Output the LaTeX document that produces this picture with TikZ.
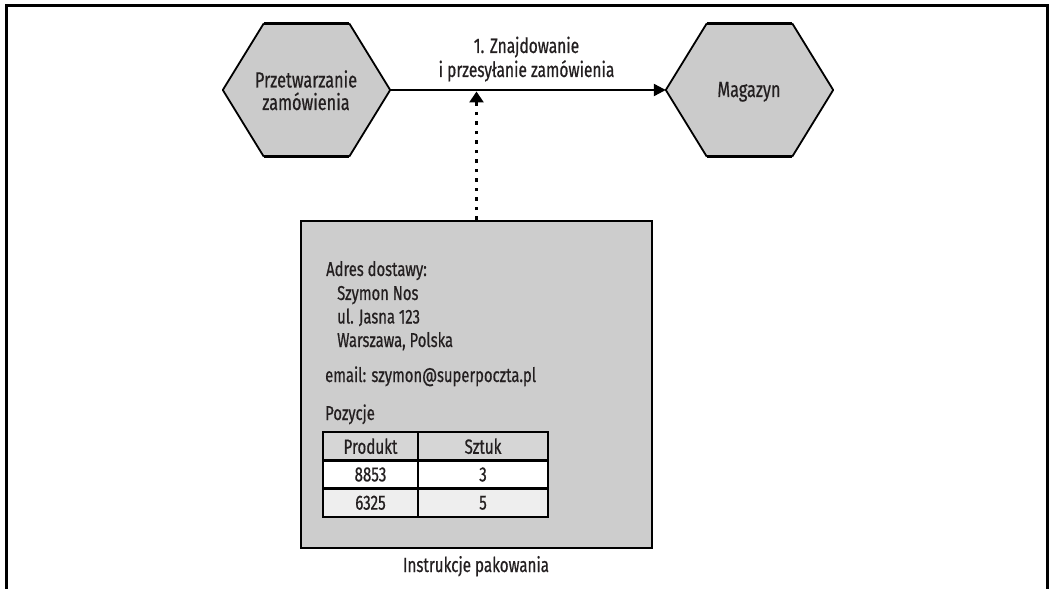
\documentclass[tikz,border=0pt]{standalone}
\usepackage{fontspec}
\setmainfont{Fira Sans}[FakeStretch=0.74, FakeBold=0.6]
\usetikzlibrary{arrows.meta,calc}
\definecolor{hexgray}{HTML}{CBCBCB}
\definecolor{boxgray}{HTML}{CDCDCD}
\definecolor{hdrgray}{HTML}{D6D6D6}
\definecolor{rowgray}{HTML}{EEEEEE}
\definecolor{ink}{HTML}{231F20}
\tikzset{
  hexshape/.style={rectangle, draw=none, inner sep=0pt, minimum width=167bp, minimum height=133bp},
  txt/.style={font=\fontsize{20bp}{24bp}\selectfont, text=ink, inner sep=0pt},
  labtxt/.style={font=\fontsize{21bp}{24bp}\selectfont, text=ink, inner sep=0pt, align=center},
  hextxt/.style={font=\fontsize{22bp}{22.5bp}\selectfont, text=ink, inner sep=0pt, align=center},
  conn/.style={draw=black, line width=2.2bp, -{Triangle[length=12bp,width=12bp]}},
  dotconn/.style={draw=black, line width=3bp, dash pattern=on 3.5bp off 6bp, -{Triangle[length=11bp,width=14bp]}},
  packbox/.style={rectangle, draw=black, line width=2.5bp, fill=boxgray, inner sep=0pt, minimum width=351bp, minimum height=327bp},
  cell/.style={rectangle, draw=black, line width=2.5bp, inner sep=0pt, minimum height=28.3bp, font=\fontsize{20.5bp}{22bp}\selectfont, text=ink},
}
\newcommand\drawhex[1]{%
  \fill[hexgray] (#1.west) -- ($(#1.north west)!0.245!(#1.north east)$) -- ($(#1.north west)!0.755!(#1.north east)$) -- (#1.east) -- ($(#1.south west)!0.755!(#1.south east)$) -- ($(#1.south west)!0.245!(#1.south east)$) -- cycle;
  \draw[line width=1.8bp, line join=round] ($(#1.north west)!0.245!(#1.north east)$) -- (#1.west) -- ($(#1.south west)!0.245!(#1.south east)$);
  \draw[line width=1.8bp, line join=round] ($(#1.north west)!0.755!(#1.north east)$) -- (#1.east) -- ($(#1.south west)!0.755!(#1.south east)$);
  \draw[line width=3.5bp] ($(#1.north west)!0.245!(#1.north east)$) -- ($(#1.north west)!0.755!(#1.north east)$);
  \draw[line width=3.5bp] ($(#1.south west)!0.245!(#1.south east)$) -- ($(#1.south west)!0.755!(#1.south east)$);
}
\begin{document}
\begin{tikzpicture}[x=1bp, y=-1bp]
\useasboundingbox (0,0) rectangle (1052,589);
% frame
\draw[line width=3bp] (6,590) -- (6,5.5) -- (1047.5,5.5) -- (1047.5,590);
% hexagons
\node[hexshape] (p) at (306.5,90) {};
\node[hexshape] (m) at (749.5,90) {};
\drawhex{p}
\drawhex{m}
\node[hextxt, anchor=base] (pt) at (306,110) {Przetwarzanie\\zamówienia};
\node[hextxt, anchor=base] (mt) at (749,97) {Magazyn};
% main connector
\draw[conn] (p.east) -- (m.west);
\node[labtxt, anchor=base] (lab) at (526.5,77) {1. Znajdowanie\\i przesyłanie zamówienia};
% packing box
\node[packbox] (b) at (476.5,384.5) {};
\draw[dotconn, shorten >=1.5bp] (b.north) -- (b.north |- p.east);
\node[txt, anchor=base west] (a1) at (326,276) {Adres dostawy:};
\node[txt, anchor=base west] (a2) at (337,300) {Szymon Nos};
\node[txt, anchor=base west] (a3) at (337,323.5) {ul. Jasna 123};
\node[txt, anchor=base west] (a4) at (337,347) {Warszawa, Polska};
\node[txt, anchor=base west] (a5) at (325,382) {email: szymon@superpoczta.pl};
\node[txt, anchor=base west] (a6) at (325,420) {Pozycje};
% table
\node[cell, fill=hdrgray, minimum width=95bp] (c11) at (370.5,446.2) {Produkt};
\node[cell, fill=hdrgray, minimum width=130bp] (c12) at (483,446.2) {Sztuk};
\node[cell, fill=white, minimum width=95bp] (c21) at (370.5,474.5) {8853};
\node[cell, fill=white, minimum width=130bp] (c22) at (483,474.5) {3};
\node[cell, fill=rowgray, minimum width=95bp] (c31) at (370.5,502.8) {6325};
\node[cell, fill=rowgray, minimum width=130bp] (c32) at (483,502.8) {5};
\node[txt, font=\fontsize{20.5bp}{24bp}\selectfont, anchor=base] (cap) at (476,572) {Instrukcje pakowania};
\end{tikzpicture}
\end{document}
